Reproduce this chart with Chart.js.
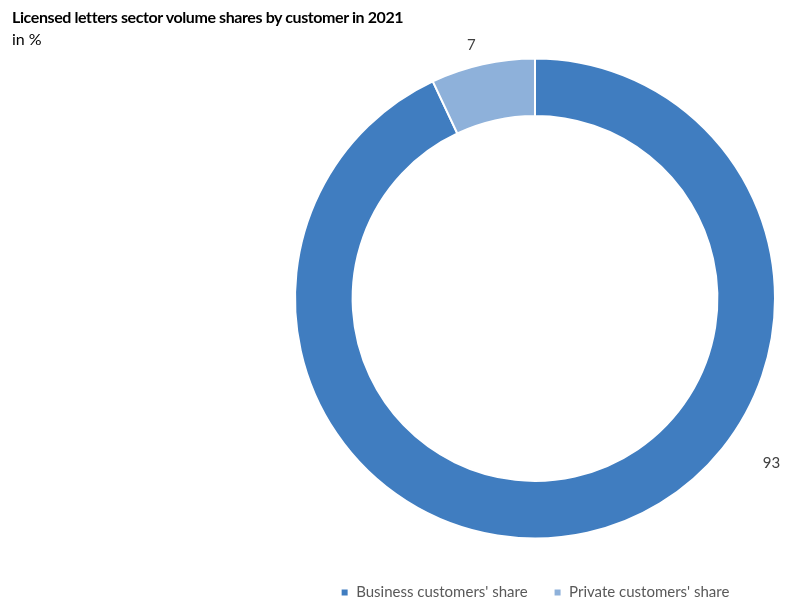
<!DOCTYPE html>
<html>
<head>
<meta charset="utf-8">
<script src="https://cdn.jsdelivr.net/npm/chart.js@4"></script>
<style>
  html, body { margin: 0; padding: 0; background: #fff; }
  #wrap { position: relative; width: 791px; height: 603px; }
  #title { position: absolute; left: 12px; top: 7px; font-family: Lato, sans-serif; color: #000; }
  #title .main { font-weight: 700; font-size: 16px; line-height: 20px; letter-spacing: -0.4px; }
  #title .sub { font-size: 16px; line-height: 24px; }
  canvas { position: absolute; left: 0; top: 0; }
</style>
</head>
<body>
<div id="wrap">
  <canvas id="chart" width="791" height="603"></canvas>
  <div id="title">
    <div class="main">Licensed letters sector volume shares by customer in 2021</div>
    <div class="sub">in %</div>
  </div>
</div>
<script>
// data
const categories = ["Business customers' share", "Private customers' share"];
const shares = [93, 7];
const colors = ["#407DC0", "#8EB1DA"];

// value labels outside the ring (angle in degrees clockwise from top, gap beyond outer radius)
const labelPlugin = {
  id: "valueLabels",
  afterDatasetsDraw(chart, args, opts) {
    const ctx = chart.ctx;
    const meta = chart.getDatasetMeta(0);
    ctx.save();
    ctx.font = "15px Lato, sans-serif";
    ctx.fillStyle = "#404040";
    ctx.textAlign = "center";
    ctx.textBaseline = "middle";
    meta.data.forEach((arc, i) => {
      const p = arc.getProps(["x", "y", "startAngle", "endAngle", "outerRadius"], true);
      const place = opts.place[i] || {};
      let ang = (p.startAngle + p.endAngle) / 2;
      if (place.angle != null) ang = (place.angle - 90) * Math.PI / 180;
      const r = p.outerRadius + (place.gap || 20);
      ctx.fillText(String(chart.data.datasets[0].data[i]), p.x + Math.cos(ang) * r, p.y + Math.sin(ang) * r);
    });
    ctx.restore();
  }
};

new Chart(document.getElementById("chart"), {
  type: "doughnut",
  data: {
    labels: categories,
    datasets: [{
      data: shares,
      backgroundColor: colors,
      borderColor: "#ffffff",
      borderWidth: 2,
      hoverOffset: 0
    }]
  },
  options: {
    responsive: false,
    animation: false,
    cutout: "76%",
    layout: { padding: { left: 294, right: 15, top: 38, bottom: -7 } },
    plugins: {
      title: { display: false },
      tooltip: { enabled: false },
      legend: {
        position: "bottom",
        labels: {
          boxWidth: 8,
          boxHeight: 8,
          padding: 26,
          color: "#595959",
          font: { family: "Lato", size: 15 }
        }
      },
      valueLabels: {
        place: [{ angle: 124.8, gap: 48 }, { angle: 345.9, gap: 21 }]
      }
    }
  },
  plugins: [labelPlugin]
});
</script>
</body>
</html>
